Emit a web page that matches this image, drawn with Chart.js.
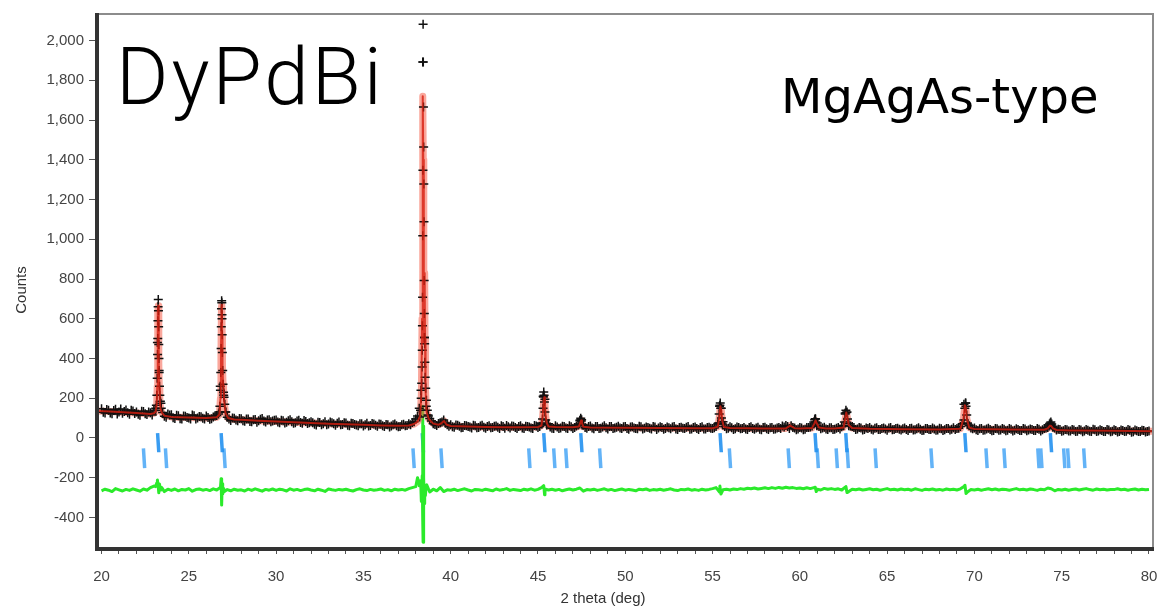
<!DOCTYPE html>
<html>
<head>
<meta charset="utf-8">
<script src="https://cdn.jsdelivr.net/npm/chart.js@4.4.0/dist/chart.umd.min.js"></script>
<style>
  html, body { margin: 0; padding: 0; background: #fff; }
</style>
</head>
<body>
<canvas id="xrd" width="1159" height="609"></canvas>
<script>
// scan: 2theta start/step, observed counts on that grid
const scanStart = 20.0;
const scanStep = 0.2;
const obsCounts = [
  147, 126, 139, 122, 144, 131, 124, 141, 119, 136,
  130, 114, 133, 118, 127, 138, 480, 175, 109, 121,
  117, 98, 112, 95, 109, 101, 115, 96, 108, 99,
  111, 94, 106, 113, 260, 215, 104, 88, 99, 86,
  97, 84, 95, 81, 93, 86, 98, 80, 91, 85,
  90, 76, 87, 79, 92, 74, 85, 78, 88, 73,
  82, 69, 79, 66, 81, 70, 77, 64, 80, 68,
  75, 62, 73, 65, 71, 60, 74, 63, 70, 59,
  69, 57, 67, 60, 70, 56, 66, 61, 72, 78,
  95, 150, 1893, 160, 98, 72, 63, 77, 90, 66,
  67, 54, 64, 51, 63, 57, 50, 62, 53, 64,
  49, 62, 52, 60, 47, 58, 63, 50, 59, 48,
  61, 47, 58, 50, 63, 52, 75, 195, 72, 49,
  61, 47, 59, 50, 62, 48, 60, 88, 64, 49,
  60, 46, 58, 49, 61, 45, 57, 50, 59, 47,
  58, 44, 56, 47, 59, 45, 55, 49, 57, 43,
  56, 44, 55, 46, 58, 42, 54, 47, 57, 45,
  55, 43, 56, 45, 54, 48, 58, 160, 82, 46,
  56, 43, 55, 46, 53, 42, 56, 44, 54, 41,
  54, 42, 53, 45, 52, 60, 63, 47, 53, 41,
  53, 41, 52, 55, 80, 75, 46, 54, 42, 51,
  44, 53, 56, 125, 72, 58, 43, 52, 40, 50,
  52, 40, 51, 43, 50, 39, 52, 42, 49, 40,
  50, 38, 49, 41, 51, 37, 48, 42, 50, 39,
  49, 37, 48, 40, 51, 47, 58, 170, 75, 50,
  50, 37, 48, 40, 49, 36, 47, 39, 48, 36,
  47, 35, 46, 38, 48, 36, 45, 38, 47, 35,
  48, 52, 64, 50, 44, 34, 43, 35, 42, 33,
  43, 31, 42, 34, 44, 32, 41, 33, 43, 31,
  41, 30, 40, 33, 42, 29, 40, 32, 39, 30,
  35
];
// second interleaved set of observed points, 20.1 .. 79.9
const obsCountsB = [
  129, 143, 125, 138, 120, 146, 133, 127, 140, 123,
  119, 135, 122, 131, 116, 150, 340, 128, 104, 115,
  102, 114, 97, 110, 103, 96, 112, 100, 107, 95,
  103, 97, 110, 121, 620, 130, 96, 101, 90, 98,
  87, 96, 83, 92, 79, 94, 85, 90, 82, 89,
  80, 89, 75, 86, 81, 77, 89, 74, 83, 76,
  76, 65, 78, 72, 67, 80, 71, 74, 66, 77,
  64, 74, 68, 61, 72, 66, 60, 73, 64, 70,
  61, 68, 55, 66, 62, 58, 69, 63, 66, 82,
  110, 240, 506, 115, 85, 68, 73, 80, 74, 59,
  56, 65, 59, 52, 61, 55, 64, 51, 60, 54,
  57, 51, 59, 54, 61, 49, 56, 60, 52, 58,
  50, 59, 55, 48, 60, 57, 210, 66, 55, 48,
  55, 50, 58, 47, 56, 53, 65, 92, 52, 58,
  50, 57, 48, 55, 51, 58, 47, 54, 50, 56,
  48, 55, 50, 46, 56, 49, 53, 45, 55, 50,
  53, 47, 51, 55, 45, 52, 49, 54, 44, 53,
  47, 52, 45, 53, 49, 51, 70, 150, 58, 49,
  51, 46, 53, 48, 45, 52, 47, 50, 44, 52,
  46, 51, 44, 50, 47, 55, 58, 62, 50, 45,
  50, 44, 52, 60, 95, 58, 50, 45, 51, 43,
  49, 45, 62, 130, 60, 52, 45, 50, 43, 48,
  44, 49, 42, 47, 45, 50, 41, 48, 44, 46,
  43, 47, 40, 46, 44, 39, 47, 43, 45, 40,
  46, 41, 47, 44, 42, 49, 72, 176, 62, 46,
  41, 46, 39, 45, 42, 38, 46, 40, 44, 39,
  44, 39, 43, 37, 45, 40, 42, 38, 44, 41,
  50, 70, 55, 40, 42, 36, 41, 35, 40, 34,
  40, 35, 39, 33, 41, 35, 38, 32, 40, 34,
  38, 32, 37, 34, 39, 31, 36, 33, 38, 32
];

// extra observed points on the peak flanks (finer steps)
const peakObs = [
  [23.10, 140], [23.14, 165], [23.17, 215], [23.19, 300], [23.21, 420], [23.22, 500],
  [23.23, 590], [23.24, 660], [23.25, 697], [23.26, 640], [23.27, 560], [23.28, 470],
  [23.29, 400], [23.30, 330], [23.32, 260], [23.34, 215], [23.37, 185], [23.42, 150],
  [26.74, 130], [26.78, 160], [26.81, 240], [26.83, 330], [26.85, 450], [26.86, 560],
  [26.87, 650], [26.88, 690], [26.89, 680], [26.90, 600], [26.91, 520], [26.92, 430],
  [26.94, 340], [26.96, 270], [26.99, 230], [27.02, 205], [27.06, 170], [27.12, 130],
  [38.22, 105], [38.27, 140], [38.31, 200], [38.34, 275], [38.36, 357], [38.37, 441],
  [38.38, 565], [38.39, 708], [38.40, 1018], [38.41, 1348], [38.42, 2082], [38.43, 1893],
  [38.44, 1666], [38.45, 1465], [38.46, 1278], [38.47, 1088], [38.48, 792], [38.49, 627],
  [38.50, 506], [38.51, 474], [38.52, 381], [38.54, 306], [38.57, 250], [38.61, 190],
  [38.66, 140], [38.72, 110],
  [45.22, 70], [45.26, 95], [45.29, 150], [45.31, 206], [45.33, 231], [45.35, 215],
  [45.37, 181], [45.40, 130], [45.44, 90], [45.50, 65],
  [47.38, 70], [47.42, 90], [47.45, 99], [47.48, 85], [47.53, 65],
  [55.33, 75], [55.38, 120], [55.42, 165], [55.44, 176], [55.47, 150], [55.51, 100], [55.56, 70],
  [60.80, 70], [60.85, 92], [60.88, 97], [60.92, 80], [60.97, 62],
  [62.55, 80], [62.60, 120], [62.64, 139], [62.68, 128], [62.73, 95], [62.80, 62],
  [69.40, 90], [69.45, 150], [69.49, 176], [69.52, 160], [69.56, 115], [69.62, 70],
  [74.28, 60], [74.34, 75], [74.38, 80], [74.43, 70], [74.50, 55]
];

// calculated profile
const calcCurve = [
  [19.8, 136], [20.5, 133], [21, 130], [22, 125], [22.8, 121], [23.0, 124], [23.1, 132],
  [23.16, 170], [23.19, 260], [23.21, 420], [23.23, 640], [23.25, 665], [23.27, 560],
  [23.29, 380], [23.31, 250], [23.34, 180], [23.38, 150], [23.45, 128], [23.6, 112],
  [24, 106], [25, 103], [26, 101], [26.6, 104], [26.75, 118], [26.81, 200], [26.84, 420],
  [26.87, 660], [26.89, 670], [26.91, 520], [26.93, 360], [26.96, 270], [26.99, 250],
  [27.03, 180], [27.1, 125], [27.25, 100], [27.6, 93], [28, 91], [29, 87], [30, 83],
  [31, 79], [32, 75], [33, 72], [34, 69], [35, 66], [36, 63], [37, 61], [37.6, 63],
  [37.9, 70], [38.1, 82], [38.25, 110], [38.32, 220], [38.36, 600], [38.39, 1400],
  [38.41, 1720], [38.43, 1400], [38.45, 700], [38.47, 480], [38.49, 700], [38.51, 830],
  [38.53, 500], [38.56, 240], [38.62, 130], [38.75, 95], [39, 72], [39.3, 66], [39.5, 76],
  [39.62, 85], [39.75, 68], [40, 60], [41, 57], [42, 55], [43, 54], [44, 54], [45, 55],
  [45.2, 62], [45.27, 110], [45.32, 180], [45.36, 205], [45.40, 175], [45.44, 110],
  [45.5, 75], [45.6, 58], [46, 55], [47, 54], [47.35, 58], [47.43, 78], [47.47, 88],
  [47.52, 75], [47.6, 56], [48, 53], [50, 51], [52, 50], [54, 49], [55, 49], [55.3, 56],
  [55.38, 100], [55.45, 160], [55.5, 140], [55.56, 85], [55.65, 55], [56, 50], [58, 48],
  [59.2, 48], [59.45, 62], [59.7, 49], [60, 47], [60.7, 50], [60.83, 72], [60.9, 88],
  [60.96, 75], [61.1, 52], [61.5, 48], [62, 47], [62.5, 52], [62.6, 95], [62.66, 128],
  [62.72, 105], [62.8, 65], [63, 50], [64, 46], [66, 44], [68, 43], [69.2, 46],
  [69.37, 95], [69.45, 165], [69.5, 155], [69.57, 95], [69.7, 52], [70, 45], [72, 42],
  [74, 41], [74.2, 48], [74.33, 62], [74.4, 60], [74.5, 48], [74.7, 40], [75.5, 38],
  [76, 37], [78, 36], [80.2, 34]
];

// difference curve (offset), same grid as obsCounts
const diffCounts = [
  -266, -258, -263, -270, -255, -261, -267, -259, -264, -256,
  -262, -268, -257, -263, -250, -242, -225, -248, -270, -258,
  -264, -257, -266, -259, -262, -255, -268, -260, -257, -263,
  -259, -265, -256, -262, -250, -272, -260, -266, -258, -263,
  -261, -267, -258, -264, -256, -262, -268, -259, -263, -257,
  -264, -258, -261, -267, -256, -263, -259, -265, -260, -257,
  -262, -266, -258, -263, -269, -257, -261, -264, -259, -262,
  -258, -263, -267, -260, -256, -262, -265, -259, -263, -261,
  -257, -264, -260, -266, -258, -262, -259, -263, -255, -250,
  -245, -230, -300, -238, -272, -258, -266, -250, -270, -261,
  -263, -258, -265, -260, -256, -262, -267, -259, -261, -264,
  -258, -262, -266, -257, -263, -260, -255, -264, -259, -262,
  -265, -258, -262, -256, -263, -259, -250, -268, -262, -258,
  -263, -259, -266, -261, -257, -262, -258, -252, -268, -260,
  -262, -258, -264, -260, -256, -263, -259, -265, -261, -257,
  -263, -259, -262, -266, -258, -261, -257, -264, -260, -262,
  -258, -263, -260, -256, -262, -265, -259, -261, -257, -263,
  -260, -264, -258, -262, -259, -255, -250, -272, -261, -258,
  -262, -257, -260, -255, -258, -253, -256, -252, -257, -254,
  -251, -255, -250, -254, -249, -253, -248, -252, -250, -254,
  -252, -256, -251, -255, -250, -258, -262, -254, -258, -255,
  -259, -256, -262, -247, -270, -258, -261, -257, -262, -259,
  -256, -261, -258, -263, -259, -255, -261, -258, -262, -257,
  -261, -258, -263, -256, -260, -264, -258, -261, -257, -262,
  -259, -263, -257, -261, -258, -262, -256, -245, -272, -260,
  -262, -258, -263, -259, -256, -261, -257, -262, -258, -260,
  -263, -259, -255, -261, -258, -262, -257, -260, -264, -258,
  -261, -252, -256, -266, -259, -262, -258, -263, -260, -257,
  -262, -258, -255, -260, -263, -257, -261, -258, -262, -259,
  -260, -256, -261, -258, -263, -259, -257, -262, -258, -261,
  -259
];

// difference spikes at the peaks (finer steps)
const peakDiff = [
  [23.10, -245], [23.16, -228], [23.20, -212], [23.24, -238], [23.28, -276], [23.32, -232],
  [23.36, -262], [23.45, -250],
  [26.82, -240], [26.85, -205], [26.87, -300], [26.89, -338], [26.91, -230], [26.94, -282],
  [26.98, -255],
  [38.10, -200], [38.20, -240], [38.28, -215], [38.32, -320], [38.35, -250], [38.37, -190],
  [38.39, -60], [38.40, 160], [38.41, -420], [38.42, -525], [38.43, -150], [38.44, 60],
  [38.45, -300], [38.46, -440], [38.47, -200], [38.49, -330], [38.51, -240], [38.55, -290],
  [38.62, -235],
  [45.33, -240], [45.38, -286], [45.44, -258],
  [55.42, -242], [55.48, -282],
  [60.88, -248], [60.94, -270],
  [62.64, -245], [62.70, -275],
  [69.46, -238], [69.52, -280]
];

// Bragg reflection markers: main phase (upper row) and second row
const phase1Ticks = [23.24, 26.88, 38.40, 45.36, 47.48, 55.46, 60.90, 62.66, 69.48, 74.38];
const phase2Ticks = [22.43, 23.69, 27.04, 37.87, 39.47, 44.50, 45.93, 46.62, 48.56, 55.99,
  59.36, 61.02, 62.11, 62.74, 64.34, 67.54, 70.69, 71.72, 73.66, 73.83, 75.14, 75.37, 76.29];

const xTickLabels = [20, 25, 30, 35, 40, 45, 50, 55, 60, 65, 70, 75, 80];
const yTickValues = [-400, -200, 0, 200, 400, 600, 800, 1000, 1200, 1400, 1600, 1800, 2000];

// ---- build datasets ----
function gridPoints(values, start) {
  return values.map((v, i) => ({ x: +(start + i * scanStep).toFixed(2), y: v }));
}
const pairs = arr => arr.map(p => ({ x: p[0], y: p[1] }));

const obsData = gridPoints(obsCounts, scanStart)
  .concat(gridPoints(obsCountsB, scanStart + scanStep / 2))
  .concat(pairs(peakObs));
const diffData = gridPoints(diffCounts, scanStart).concat(pairs(peakDiff)).sort((a, b) => a.x - b.x);
const calcData = pairs(calcCurve);

function tickSegments(positions, top, bottom) {
  const out = [];
  positions.forEach(p => {
    out.push({ x: p - 0.03, y: top }, { x: p + 0.04, y: bottom }, { x: p, y: null });
  });
  return out;
}

const framePlugin = {
  id: 'frame',
  afterDraw(chart) {
    const { ctx, chartArea: a } = chart;
    ctx.save();
    ctx.strokeStyle = '#8c8c8c';
    ctx.lineWidth = 2;
    ctx.strokeRect(a.left, a.top, a.right - a.left, a.bottom - a.top);
    ctx.strokeStyle = '#333';
    ctx.lineWidth = 4;
    ctx.beginPath();
    ctx.moveTo(a.left, a.top - 1);
    ctx.lineTo(a.left, a.bottom);
    ctx.lineTo(a.right + 1, a.bottom);
    ctx.stroke();

    ctx.fillStyle = '#000';
    ctx.textBaseline = 'alphabetic';
    ctx.textAlign = 'left';
    ctx.font = '300 80px Roboto, Lato, "Open Sans", sans-serif';
    ctx.letterSpacing = '3px';
    ctx.fillText('DyPdBi', 116, 104);
    ctx.letterSpacing = '0px';
    ctx.font = '48px "DejaVu Sans", sans-serif';
    ctx.fillText('MgAgAs-type', 781, 113);

    ctx.fillStyle = '#333';
    ctx.font = '15px "Liberation Sans", Arial, sans-serif';
    ctx.textAlign = 'center';
    ctx.textBaseline = 'middle';
    ctx.fillText('2 theta (deg)', 603, 599);
    ctx.translate(22, 290);
    ctx.rotate(-Math.PI / 2);
    ctx.fillText('Counts', 0, 0);
    ctx.restore();
  }
};

const ctx = document.getElementById('xrd').getContext('2d');
const xrdChart = new Chart(ctx, {
  type: 'line',
  data: {
    datasets: [
      {
        label: 'Calc',
        data: calcData,
        borderColor: 'rgba(215, 30, 15, 0.8)',
        borderWidth: 2,
        borderJoinStyle: 'round',
        pointRadius: 0,
        order: 0
      },
      {
        label: 'Obs',
        data: obsData,
        showLine: false,
        pointStyle: 'cross',
        pointRadius: 4.5,
        pointBorderWidth: 1.5,
        pointBorderColor: '#111',
        borderColor: '#111',
        order: 1
      },
      {
        label: 'Calc band',
        data: calcData,
        borderColor: 'rgba(245, 95, 75, 0.55)',
        borderWidth: 7,
        borderJoinStyle: 'round',
        pointRadius: 0,
        order: 2
      },
      {
        label: 'Diff',
        data: diffData,
        borderColor: '#2bea2b',
        borderWidth: 3,
        borderJoinStyle: 'round',
        pointRadius: 0,
        order: 3
      },
      {
        label: 'Phase 1',
        data: tickSegments(phase1Ticks, 24, -72),
        borderColor: 'rgba(35, 145, 240, 0.9)',
        borderWidth: 3.5,
        pointRadius: 0,
        spanGaps: false,
        order: 4
      },
      {
        label: 'Phase 2',
        data: tickSegments(phase2Ticks, -52, -152),
        borderColor: 'rgba(60, 160, 245, 0.8)',
        borderWidth: 3.5,
        pointRadius: 0,
        spanGaps: false,
        order: 5
      }
    ]
  },
  options: {
    responsive: false,
    animation: false,
    devicePixelRatio: 1,
    layout: { padding: { top: 13, right: 4, left: 0, bottom: 0 } },
    plugins: { legend: { display: false }, tooltip: { enabled: false } },
    elements: { line: { tension: 0 } },
    scales: {
      x: {
        type: 'linear',
        min: 19.74,
        max: 80.23,
        border: { display: false },
        grid: { drawOnChartArea: false, drawTicks: true, tickLength: 5, tickColor: '#555' },
        afterBuildTicks: scale => {
          const ticks = [];
          for (let v = 20; v <= 80; v++) ticks.push({ value: v });
          scale.ticks = ticks;
        },
        afterFit: scale => {
          scale.height = 60;
          scale.paddingLeft = 0;
          scale.paddingRight = 0;
        },
        ticks: {
          autoSkip: false,
          maxRotation: 0,
          padding: 14,
          color: '#444',
          font: { family: '"Liberation Sans", Arial, sans-serif', size: 15 },
          callback: v => (xTickLabels.includes(v) ? String(v) : '')
        }
      },
      y: {
        type: 'linear',
        min: -559,
        max: 2134,
        border: { display: false },
        grid: { drawOnChartArea: false, drawTicks: true, tickLength: 8, tickColor: '#555' },
        afterBuildTicks: scale => {
          scale.ticks = yTickValues.map(v => ({ value: v }));
        },
        afterFit: scale => { scale.width = 97; },
        ticks: {
          padding: 5,
          color: '#444',
          font: { family: '"Liberation Sans", Arial, sans-serif', size: 15 },
          callback: v => v.toLocaleString('en-US')
        }
      }
    }
  },
  plugins: [framePlugin]
});
</script>
</body>
</html>
